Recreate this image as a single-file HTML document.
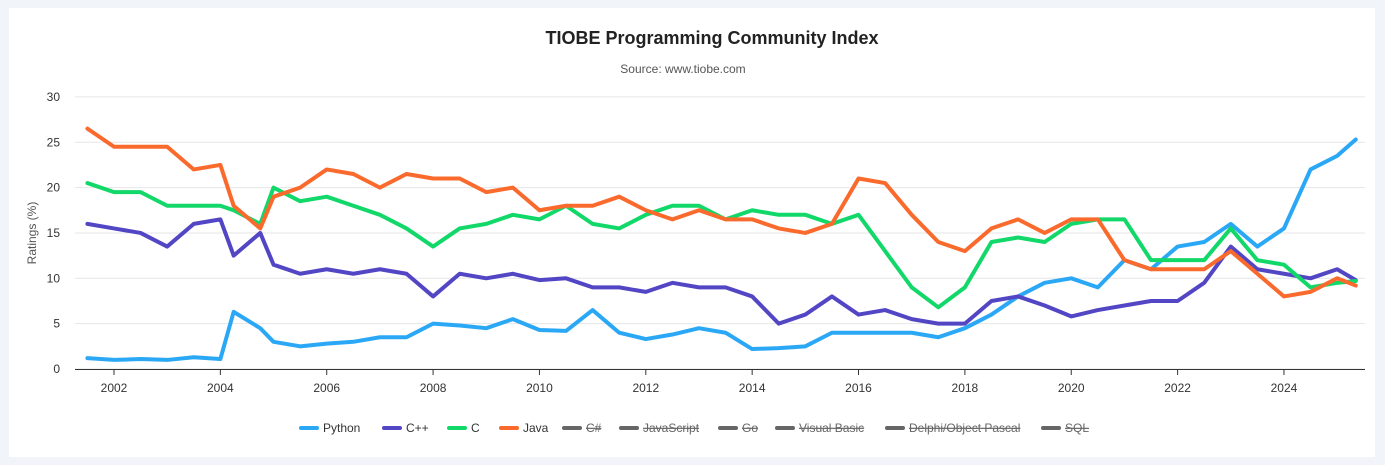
<!DOCTYPE html>
<html><head><meta charset="utf-8"><style>
body{margin:0;background:#f1f5f9;font-family:"Liberation Sans",sans-serif;}
#card{position:absolute;left:9px;top:8px;width:1366px;height:449px;background:#fff;}
svg{position:absolute;left:0;top:0;}
</style></head><body>
<div id="card"></div>
<svg id="chart" width="1385" height="465"></svg>
<script>
const dates=[2001.5,2002,2002.5,2003,2003.5,2004,2004.25,2004.75,2005,2005.5,2006,2006.5,2007,2007.5,2008,2008.5,2009,2009.5,2010,2010.5,2011,2011.5,2012,2012.5,2013,2013.5,2014,2014.5,2015,2015.5,2016,2016.5,2017,2017.5,2018,2018.5,2019,2019.5,2020,2020.5,2021,2021.5,2022,2022.5,2023,2023.5,2024,2024.5,2025,2025.35];
const python=[1.2,1.0,1.1,1.0,1.3,1.1,6.3,4.5,3,2.5,2.8,3,3.5,3.5,5,4.8,4.5,5.5,4.3,4.2,6.5,4,3.3,3.8,4.5,4,2.2,2.3,2.5,4,4,4,4,3.5,4.5,6,8,9.5,10,9,12,11,13.5,14,16,13.5,15.5,22,23.5,25.3];
const cpp=[16,15.5,15,13.5,16,16.5,12.5,15,11.5,10.5,11,10.5,11,10.5,8,10.5,10,10.5,9.8,10,9,9,8.5,9.5,9,9,8,5,6,8,6,6.5,5.5,5,5,7.5,8,7,5.8,6.5,7,7.5,7.5,9.5,13.5,11,10.5,10,11,9.8];
const cLang=[20.5,19.5,19.5,18,18,18,17.5,16,20,18.5,19,18,17,15.5,13.5,15.5,16,17,16.5,18,16,15.5,17,18,18,16.5,17.5,17,17,16,17,13,9,6.8,9,14,14.5,14,16,16.5,16.5,12,12,12,15.5,12,11.5,9,9.5,9.7];
const java=[26.5,24.5,24.5,24.5,22,22.5,18,15.5,19,20,22,21.5,20,21.5,21,21,19.5,20,17.5,18,18,19,17.5,16.5,17.5,16.5,16.5,15.5,15,16,21,20.5,17,14,13,15.5,16.5,15,16.5,16.5,12,11,11,11,13,10.5,8,8.5,10,9.2];
const yTicks=[0,5,10,15,20,25,30];
const xTicks=[2002,2004,2006,2008,2010,2012,2014,2016,2018,2020,2022,2024];
const legendNames=["Python","C++","C","Java","C#","JavaScript","Go","Visual Basic","Delphi/Object Pascal","SQL"];
const legendX=[301,384,449,501,564,621,720,777,887,1043];
const NS="http://www.w3.org/2000/svg",svg=document.getElementById('chart');
const X=v=>114+(v-2002)*53.18, Y=v=>369-v*9.07;
function mk(t,a,p){const e=document.createElementNS(NS,t);for(const k in a)e.setAttribute(k,a[k]);(p||svg).appendChild(e);return e;}
let t=mk('text',{x:712,y:44,'text-anchor':'middle','font-size':18,'font-weight':'bold',fill:'#222'});t.textContent='TIOBE Programming Community Index';


t=mk('text',{x:683,y:73,'text-anchor':'middle','font-size':12,fill:'#555'});t.textContent='Source: www.tiobe.com';


t=mk('text',{x:36,y:233,'text-anchor':'middle','font-size':12,fill:'#555',transform:'rotate(-90 36 233)'});t.textContent='Ratings (%)';


yTicks.forEach(v=>{const g=mk('line',{x1:75,x2:1365,y1:Y(v),y2:Y(v),stroke:'#e6e6e6'});


const l=mk('text',{x:60,y:Y(v)+4,'text-anchor':'end','font-size':12,fill:'#333'});l.textContent=v;

});
const ax=mk('line',{x1:75,x2:1365,y1:369.5,y2:369.5,stroke:'#333'});


xTicks.forEach(v=>{mk('line',{x1:X(v),x2:X(v),y1:369,y2:375,stroke:'#333'});const l=mk('text',{x:X(v),y:392,'text-anchor':'middle','font-size':12,fill:'#333'});l.textContent=v;

});
const series=[[python,'#2ba8f5','python-line'],[cpp,'#5346c4','cpp-line'],[cLang,'#12d86a','c-line'],[java,'#fa6a2d','java-line']];
series.forEach(([d,c,n])=>{const p=mk('polyline',{points:d.map((v,i)=>X(dates[i])+','+Y(v)).join(' '),fill:'none',stroke:c,'stroke-width':4,'stroke-linejoin':'round','stroke-linecap':'round'});

});
const lc=['#2ba8f5','#5346c4','#12d86a','#fa6a2d','#666','#666','#666','#666','#666','#666'];
legendNames.forEach((n,i)=>{const g=mk('g',{});


mk('line',{x1:legendX[i],x2:legendX[i]+16,y1:428,y2:428,stroke:lc[i],'stroke-width':4,'stroke-linecap':'round'},g);
const l=mk('text',{x:legendX[i]+22,y:432,'font-size':12,fill:i<4?'#333':'#666','text-decoration':i<4?'none':'line-through'},g);l.textContent=n;});
</script></body></html>
